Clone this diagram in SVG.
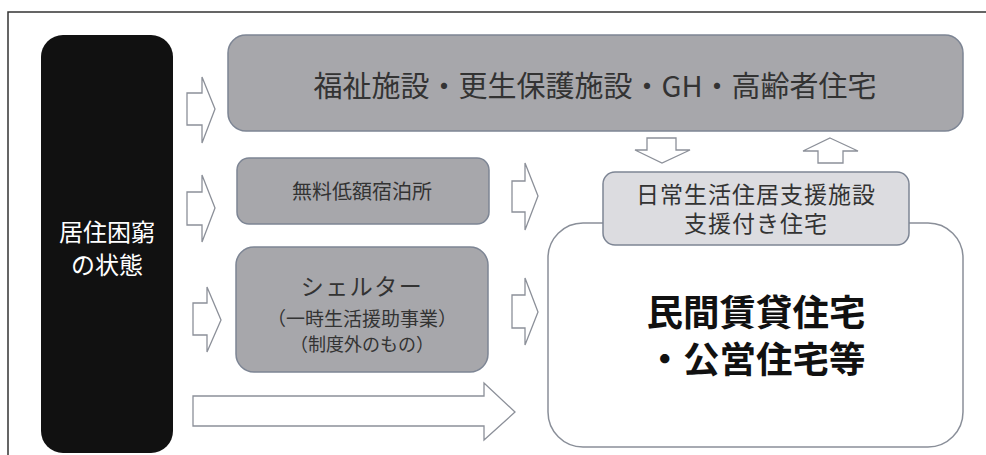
<svg xmlns="http://www.w3.org/2000/svg" width="986" height="455" viewBox="0 0 986 455">
<style>
.t{font-family:"Noto Sans CJK JP","Noto Sans",sans-serif;text-anchor:middle;dominant-baseline:central;fill:#333}
.g{fill:#a7a7ab;stroke:#7d8594;stroke-width:1.5}
.arr{fill:#fff;stroke:#8c9099;stroke-width:1.3;stroke-linejoin:miter}
</style>
<rect width="986" height="455" fill="#fff"/>
<path d="M8,455 V12 H986" fill="none" stroke="#333" stroke-width="1.5"/>
<g id="state">
<rect x="41" y="35" width="132" height="418" rx="22" fill="#111"/>
<text class="t" x="107" y="230" font-size="24" style="fill:#fff">居住困窮</text>
<text class="t" x="107" y="263" font-size="24" style="fill:#fff">の状態</text>
</g>
<g id="welfare">
<rect class="g" x="228" y="35" width="735" height="96" rx="18"/>
<text class="t" x="595" y="84" font-size="29">福祉施設・更生保護施設・GH・高齢者住宅</text>
</g>
<g id="free-lodging">
<rect class="g" x="237" y="158" width="252" height="66" rx="12"/>
<text class="t" x="362" y="190" font-size="20">無料低額宿泊所</text>
</g>
<g id="shelter">
<rect class="g" x="236" y="247" width="252" height="125" rx="18"/>
<text class="t" x="362" y="285" font-size="23" letter-spacing="1.5">シェルター</text>
<text class="t" x="362" y="317" font-size="19">（一時生活援助事業）</text>
<text class="t" x="362" y="343" font-size="18">（制度外のもの）</text>
</g>
<g id="private-housing">
<rect x="548" y="223" width="415" height="224" rx="35" fill="#fff" stroke="#8a8f99" stroke-width="1.5"/>
<text class="t" x="756" y="310" font-size="36.5" font-weight="bold" style="fill:#111">民間賃貸住宅</text>
<text class="t" x="756" y="357" font-size="36.5" font-weight="bold" style="fill:#111">・公営住宅等</text>
</g>
<g id="support-housing">
<rect x="603" y="172" width="306" height="73" rx="12" fill="#dcdce0" stroke="#7d8594" stroke-width="1.5"/>
<text class="t" x="756" y="193" font-size="23" letter-spacing="1">日常生活住居支援施設</text>
<text class="t" x="756" y="222" font-size="23" letter-spacing="1">支援付き住宅</text>
</g>
<g id="connectors">
<polygon class="arr" points="187,93 202,93 202,77 215,109 202,143 202,125 187,125"/>
<polygon class="arr" points="187,192 202,192 202,175 215,208 202,242 202,225 187,225"/>
<polygon class="arr" points="193,303 207,303 207,287 221,320 207,352 207,335 193,335"/>
<polygon class="arr" points="193,396 484,396 484,383 515,412 484,440 484,426 193,426"/>
<polygon class="arr" points="512,181 525,181 525,163 538,196 525,230 525,212 512,212"/>
<polygon class="arr" points="512,295 525,295 525,278 538,312 525,345 525,328 512,328"/>
<polygon class="arr" points="647,138 676,138 676,150 690,150 662,163 635,150 647,150"/>
<polygon class="arr" points="830,138 858,151 843,151 843,163 818,163 818,151 803,151"/>
</g>
</svg>
